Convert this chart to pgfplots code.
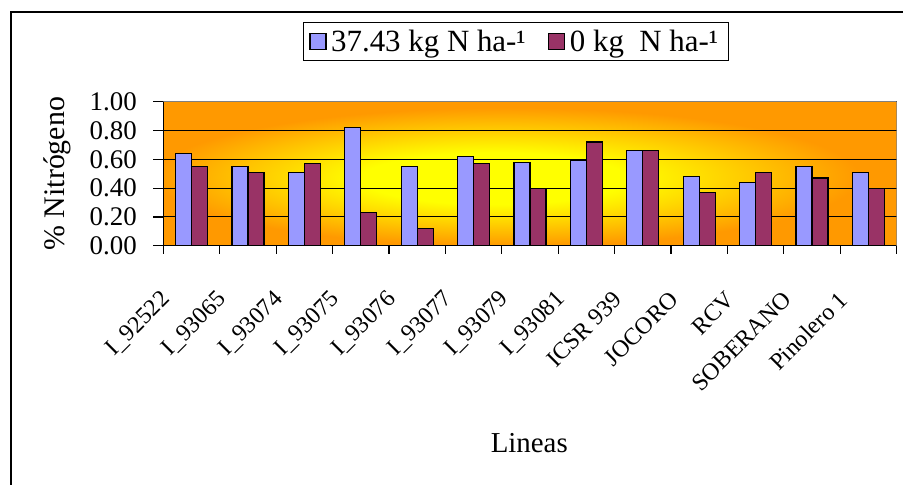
\documentclass[border=0pt]{standalone}
\usepackage{pgfplots}
\pgfplotsset{compat=1.18}
\usepackage{fontspec}
\setmainfont{Liberation Serif}
\definecolor{barblue}{HTML}{9999FF}
\definecolor{barmaroon}{HTML}{993366}
\definecolor{fireorange}{HTML}{FF9900}
\definecolor{fireyellow}{HTML}{FFFF00}
\pgfdeclareradialshading{fire}{\pgfpoint{-3bp}{-2bp}}{color(0bp)=(fireyellow); color(9bp)=(fireyellow); color(24bp)=(fireorange); color(50bp)=(fireorange)}

\pgfplotstableread{
x a b
0 0.64 0.55
1 0.55 0.51
2 0.51 0.57
3 0.82 0.23
4 0.55 0.12
5 0.62 0.57
6 0.58 0.40
7 0.59 0.72
8 0.66 0.66
9 0.48 0.37
10 0.44 0.51
11 0.55 0.47
12 0.51 0.40
}\datatable

\begin{document}
\begin{tikzpicture}
\draw[line width=1.8bp] (-152.3bp,-260bp) -- (-152.3bp,233.7bp) -- (760bp,233.7bp);
\begin{axis}[
  at={(0,0)}, anchor=south west,
  scale only axis, width=733.4bp, height=144bp,
  xmin=-0.5, xmax=12.5, ymin=0, ymax=1,
  ybar=0pt, bar width=16bp,
  axis x line*=bottom, axis y line*=left,
  axis line style={line width=1.2bp, -},
  axis background/.style={shade, shading=fire},
  tick align=outside,
  major tick length=10bp, minor tick length=8bp,
  xtick={0,...,12},
  minor xtick={-0.5,0.5,...,12.5},
  major x tick style={draw=none},
  minor x tick style={black, line width=1.2bp},
  ytick={0,0.2,...,1.0},
  y tick style={black, line width=1.2bp},
  ymajorgrids, grid style={black, line width=0.9bp},
  xticklabels={I\_92522, I\_93065, I\_93074, I\_93075, I\_93076, I\_93077, I\_93079, I\_93081, ICSR 939, JOCORO, RCV, SOBERANO, Pinolero 1},
  /pgf/number format/assume math mode=true,
  yticklabel style={font=\fontsize{27}{29}\selectfont, xshift=-13bp, /pgf/number format/.cd, fixed, fixed zerofill, precision=2},
  xticklabel style={font=\fontsize{24}{26}\selectfont, xshift=-25bp, yshift=-40bp, rotate=45, anchor=east, inner sep=0pt},
  ylabel={\% Nitrógeno},
  ylabel style={font=\fontsize{30}{32}\selectfont, at={(axis description cs:-0.145,0.5)}, anchor=center},
  xlabel={Lineas},
  xlabel style={font=\fontsize{29}{31}\selectfont, at={(axis description cs:0.499,-1.368)}, anchor=center},
  legend columns=2,
  legend style={at={(axis description cs:0.481,1.418)}, anchor=center, draw=black, line width=1.5bp,
    font=\fontsize{31}{34}\selectfont, inner xsep=6bp, inner ysep=3bp,
    nodes={inner sep=4.5bp},
    /tikz/every even column/.append style={column sep=18bp}},
  legend image code/.code={\draw[#1, line width=1.2bp] (0bp,-8bp) rectangle (16bp,8bp);},
]
\addplot[fill=barblue, draw=black, line width=1.2bp] table[x=x, y=a] {\datatable};
\addplot[fill=barmaroon, draw=black, line width=1.2bp] table[x=x, y=b] {\datatable};
\legend{37.43 kg N ha-¹, 0 kg\ \ N ha-¹}
\draw[gray, line width=1.5bp] (rel axis cs:0,1) -- (rel axis cs:1,1) -- (rel axis cs:1,0);
\end{axis}
\pgfresetboundingbox
\useasboundingbox (-163.3bp,-239.3bp) rectangle (739.7bp,245.7bp);
\end{tikzpicture}
\end{document}
